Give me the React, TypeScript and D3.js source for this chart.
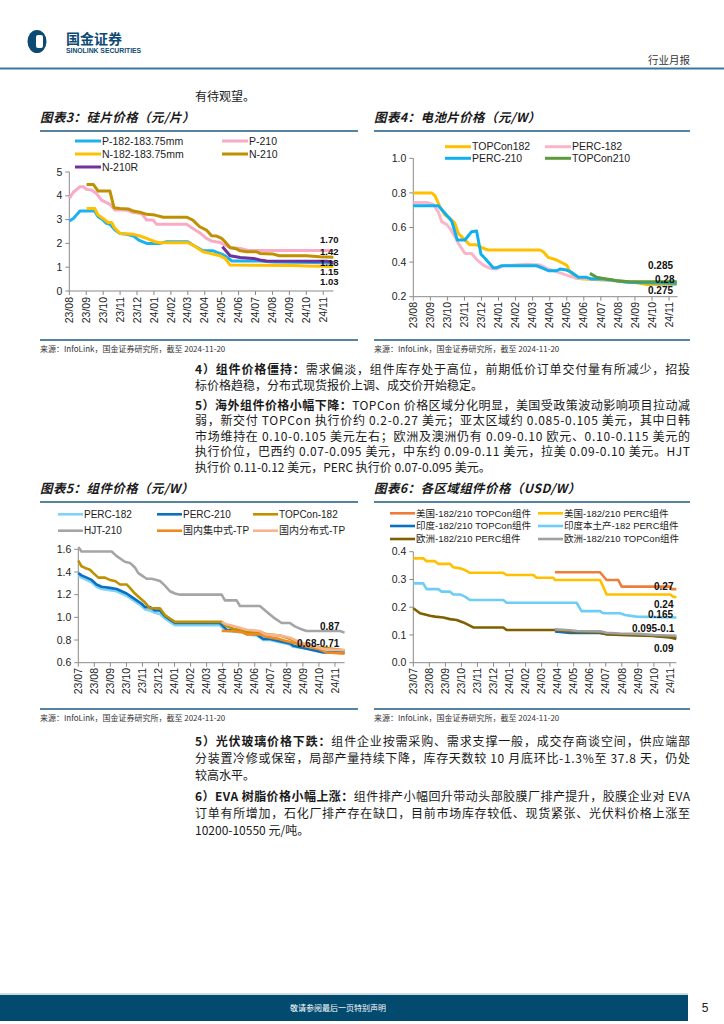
import React from 'react';
import * as d3 from 'd3';

type Pt = [number, number];

const FONT_CN = "'Noto Sans CJK SC', 'Noto Sans', sans-serif";
const FONT_EN = "'Liberation Sans', Arial, 'Noto Sans CJK SC', sans-serif";

// ---------- tick labels ----------
const monthsA = ['23/08', '23/09', '23/10', '23/11', '23/12', '24/01', '24/02', '24/03', '24/04', '24/05', '24/06', '24/07', '24/08', '24/09', '24/10', '24/11'];
const monthsB = ['23/07', ...monthsA];

// ---------- 图表3 硅片价格 (month index from 23/08, value) ----------
const siP182: Pt[] = [[0, 2.94], [0.24, 3.05], [0.63, 3.36], [1.5, 3.36], [1.7, 3.12], [2.0, 2.98], [2.2, 2.84], [2.4, 2.8], [2.7, 2.56], [3.0, 2.42], [3.4, 2.38], [3.8, 2.31], [4.1, 2.14], [4.57, 2.0], [5.35, 2.0], [5.75, 2.07], [7.0, 2.07], [7.3, 1.93], [7.9, 1.69], [8.5, 1.69], [9.0, 1.55], [9.2, 1.48], [9.6, 1.26], [11.26, 1.26], [12.05, 1.22], [14.5, 1.2], [15.2, 1.18], [15.6, 1.15]];
const siP210: Pt[] = [[0, 3.89], [0.24, 4.15], [0.63, 4.38], [0.83, 4.38], [1.02, 4.27], [1.32, 4.24], [1.6, 4.1], [1.9, 3.82], [2.2, 3.71], [2.4, 3.64], [2.7, 3.4], [3.4, 3.4], [3.7, 3.31], [4.27, 3.26], [4.57, 2.98], [4.96, 2.98], [5.16, 2.8], [6.93, 2.8], [7.3, 2.63], [7.7, 2.45], [8.1, 2.21], [8.4, 2.1], [8.9, 2.04], [9.2, 1.93], [9.5, 1.83], [10.1, 1.79], [10.6, 1.7], [15.6, 1.7]];
const siN182: Pt[] = [[1.02, 3.47], [1.5, 3.47], [1.7, 3.19], [2.0, 3.05], [2.3, 2.88], [2.5, 2.88], [2.7, 2.63], [3.0, 2.42], [3.8, 2.38], [4.17, 2.31], [4.57, 2.21], [5.06, 2.07], [5.35, 2.03], [7.0, 2.03], [7.3, 1.93], [7.9, 1.65], [8.3, 1.58], [8.9, 1.48], [9.2, 1.37], [9.5, 1.09], [13.2, 1.07], [14.0, 1.05], [15.6, 1.03]];
const siN210: Pt[] = [[1.02, 4.48], [1.42, 4.48], [1.7, 4.2], [2.4, 4.2], [2.64, 3.5], [3.0, 3.47], [3.48, 3.45], [3.78, 3.36], [4.17, 3.31], [4.57, 3.22], [5.06, 3.19], [5.55, 3.1], [6.93, 3.1], [7.3, 2.98], [7.7, 2.7], [8.1, 2.56], [8.4, 2.32], [8.7, 2.31], [9.0, 2.21], [9.2, 2.07], [9.5, 1.82], [9.8, 1.79], [10.1, 1.69], [10.5, 1.65], [11.06, 1.65], [11.26, 1.58], [12.05, 1.55], [12.4, 1.48], [14.0, 1.48], [14.8, 1.44], [15.6, 1.42]];
const siN210R: Pt[] = [[9.04, 1.86], [9.3, 1.65], [9.5, 1.48], [10.1, 1.41], [10.87, 1.37], [11.26, 1.3], [11.65, 1.26], [15.2, 1.25], [15.6, 1.2]];

// ---------- 图表4 电池片价格 ----------
const cellTop182: Pt[] = [[0, 0.8], [1.08, 0.8], [1.27, 0.784], [1.56, 0.72], [1.86, 0.672], [2.15, 0.653], [2.44, 0.624], [2.64, 0.566], [2.93, 0.537], [3.32, 0.5], [3.71, 0.5], [4.1, 0.48], [4.4, 0.47], [7.43, 0.47], [7.62, 0.46], [7.92, 0.427], [8.4, 0.412], [8.99, 0.383], [9.19, 0.345], [9.58, 0.306], [9.97, 0.302], [11.14, 0.296], [12.3, 0.29], [13.1, 0.28], [13.7, 0.27], [15.45, 0.27]];
const cellPerc182: Pt[] = [[0, 0.745], [0.78, 0.745], [1.17, 0.734], [1.47, 0.69], [1.66, 0.634], [1.95, 0.618], [2.15, 0.595], [2.44, 0.547], [2.64, 0.508], [3.03, 0.45], [3.42, 0.45], [3.71, 0.416], [4.1, 0.383], [4.5, 0.364], [4.89, 0.36], [5.28, 0.379], [6.65, 0.387], [7.43, 0.383], [7.82, 0.364], [8.4, 0.345], [8.99, 0.325], [9.58, 0.306], [9.97, 0.306], [11.14, 0.3], [12.0, 0.29], [13.0, 0.285], [14.0, 0.28], [15.45, 0.275]];
const cellPerc210: Pt[] = [[0, 0.726], [1.47, 0.726], [1.86, 0.682], [2.25, 0.638], [2.58, 0.528], [3.03, 0.528], [3.42, 0.576], [3.71, 0.58], [3.97, 0.445], [4.2, 0.422], [4.69, 0.368], [4.89, 0.368], [5.18, 0.379], [7.23, 0.379], [7.62, 0.364], [7.92, 0.35], [8.4, 0.35], [8.6, 0.36], [8.99, 0.354], [9.29, 0.34], [9.68, 0.312], [10.17, 0.312], [10.46, 0.302], [11.14, 0.302], [11.93, 0.292], [12.51, 0.283], [15.45, 0.277]];
const cellTop210: Pt[] = [[10.36, 0.335], [10.75, 0.312], [11.14, 0.306], [11.53, 0.3], [11.93, 0.292], [12.7, 0.287], [15.45, 0.287]];

// ---------- 图表5 组件价格 (month index from 23/07) ----------
const modPerc182: Pt[] = [[0, 1.37], [0.2, 1.35], [0.5, 1.33], [0.83, 1.31], [1.14, 1.27], [1.45, 1.25], [1.97, 1.24], [2.39, 1.23], [2.7, 1.21], [3.01, 1.19], [3.32, 1.16], [3.64, 1.13], [3.95, 1.1], [4.16, 1.07], [4.47, 1.06], [4.78, 1.04], [5.09, 1.03], [5.4, 0.99], [5.71, 0.96], [6.03, 0.93], [8.83, 0.93], [9.04, 0.9], [9.25, 0.88], [10.18, 0.87], [10.49, 0.85], [11.12, 0.84], [11.53, 0.8], [11.95, 0.8], [12.57, 0.78], [13.19, 0.76], [13.4, 0.74], [14.03, 0.73], [14.65, 0.72], [15.27, 0.7], [16.6, 0.69]];
const modPerc210: Pt[] = [[0, 1.39], [0.2, 1.37], [0.52, 1.35], [0.83, 1.33], [1.14, 1.29], [1.45, 1.27], [1.97, 1.26], [2.39, 1.25], [2.7, 1.23], [3.01, 1.21], [3.32, 1.18], [3.64, 1.15], [3.95, 1.12], [4.16, 1.09], [4.47, 1.09], [4.78, 1.06], [5.09, 1.06], [5.4, 1.01], [5.71, 0.98], [6.03, 0.95], [8.83, 0.95], [9.04, 0.92], [9.25, 0.89], [10.18, 0.88], [10.49, 0.86], [11.12, 0.85], [11.53, 0.81], [11.95, 0.81], [12.57, 0.79], [13.19, 0.77], [13.4, 0.75], [14.03, 0.73], [14.65, 0.71], [15.27, 0.69], [16.6, 0.69]];
const modTop182: Pt[] = [[0, 1.5], [0.2, 1.45], [0.52, 1.43], [0.73, 1.42], [0.94, 1.39], [1.25, 1.35], [1.66, 1.35], [1.97, 1.33], [2.29, 1.32], [2.6, 1.29], [3.01, 1.29], [3.22, 1.26], [3.53, 1.21], [3.84, 1.17], [4.16, 1.13], [4.47, 1.08], [5.09, 1.08], [5.4, 1.02], [5.71, 0.99], [6.03, 0.96], [8.94, 0.96], [9.14, 0.93], [9.66, 0.9], [10.08, 0.89], [10.49, 0.87], [11.32, 0.87], [11.74, 0.85], [12.57, 0.84], [13.19, 0.81], [13.82, 0.77], [14.65, 0.74], [15.48, 0.73], [16.6, 0.71]];
const modHjt210: Pt[] = [[0, 1.62], [0.2, 1.58], [2.08, 1.58], [2.39, 1.54], [2.7, 1.51], [2.9, 1.49], [3.22, 1.48], [3.53, 1.44], [3.74, 1.39], [3.95, 1.37], [4.26, 1.34], [4.57, 1.34], [4.88, 1.33], [5.09, 1.32], [5.4, 1.28], [5.71, 1.23], [6.03, 1.21], [6.34, 1.2], [8.94, 1.2], [9.14, 1.15], [9.87, 1.15], [10.08, 1.1], [11.32, 1.1], [11.74, 1.05], [12.16, 1.0], [12.68, 0.95], [13.19, 0.95], [13.5, 0.92], [13.82, 0.9], [14.23, 0.88], [16.31, 0.88], [16.6, 0.865]];
const modCentral: Pt[] = [[8.94, 0.88], [9.5, 0.88], [10.2, 0.87], [10.5, 0.85], [11.3, 0.85], [11.7, 0.83], [12.5, 0.81], [13.0, 0.79], [13.8, 0.76], [14.3, 0.74], [15.0, 0.72], [15.5, 0.69], [16.6, 0.68]];
const modDistributed: Pt[] = [[8.94, 0.96], [9.2, 0.94], [9.5, 0.93], [10.0, 0.91], [10.5, 0.89], [11.3, 0.88], [11.7, 0.85], [12.6, 0.84], [13.2, 0.82], [13.8, 0.78], [14.6, 0.75], [15.3, 0.72], [16.6, 0.71]];

// ---------- 图表6 各区域组件价格 ----------
const usTop: Pt[] = [[8.83, 0.326], [11.64, 0.326], [12.05, 0.298], [12.78, 0.298], [12.99, 0.274], [16.0, 0.274], [16.1, 0.265], [16.4, 0.265]];
const usPerc: Pt[] = [[0, 0.376], [0.62, 0.376], [0.83, 0.366], [1.35, 0.366], [1.56, 0.356], [2.29, 0.356], [2.49, 0.344], [2.91, 0.34], [3.22, 0.334], [3.53, 0.324], [5.61, 0.324], [5.82, 0.316], [7.48, 0.316], [7.69, 0.306], [8.73, 0.306], [8.83, 0.298], [11.64, 0.298], [11.84, 0.274], [12.05, 0.246], [16.0, 0.246], [16.2, 0.238], [16.4, 0.236]];
const inTop: Pt[] = [[8.83, 0.113], [9.8, 0.107], [11.6, 0.107], [12.05, 0.103], [13.9, 0.1], [14.96, 0.097], [15.5, 0.094], [16.4, 0.093]];
const inPerc: Pt[] = [[0, 0.286], [0.62, 0.286], [0.83, 0.265], [1.56, 0.265], [1.77, 0.256], [2.29, 0.256], [2.49, 0.246], [2.91, 0.246], [3.22, 0.238], [3.53, 0.226], [5.61, 0.226], [5.82, 0.216], [10.18, 0.216], [10.49, 0.186], [11.64, 0.186], [11.84, 0.178], [12.88, 0.178], [13.2, 0.172], [13.9, 0.166], [16.4, 0.163]];
const euPerc: Pt[] = [[0, 0.196], [0.42, 0.178], [0.73, 0.174], [1.04, 0.169], [1.35, 0.166], [1.87, 0.163], [2.29, 0.157], [2.7, 0.154], [3.12, 0.145], [3.43, 0.136], [3.74, 0.127], [5.61, 0.127], [5.82, 0.118], [8.83, 0.118], [9.77, 0.112], [11.64, 0.109], [12.05, 0.103], [12.88, 0.1], [14.96, 0.096], [16.0, 0.091], [16.4, 0.085]];
const euTop: Pt[] = [[8.83, 0.12], [9.77, 0.117], [10.2, 0.114], [11.64, 0.113], [12.05, 0.108], [12.88, 0.105], [14.0, 0.104], [15.0, 0.1], [16.4, 0.097]];

// ---------- text ----------
const sourceText = '来源：InfoLink，国金证券研究所，截至 2024-11-20';
const blockA = [
  { lead: '4）组件价格僵持：', lines: ['需求偏淡，组件库存处于高位，前期低价订单交付量有所减少，招投', '标价格趋稳，分布式现货报价上调、成交价开始稳定。'] },
  { lead: '5）海外组件价格小幅下降：', lines: ['TOPCon 价格区域分化明显，美国受政策波动影响项目拉动减', '弱，新交付 TOPCon 执行价约 0.2-0.27 美元；亚太区域约  0.085-0.105 美元，其中日韩', '市场维持在 0.10-0.105 美元左右；欧洲及澳洲仍有 0.09-0.10 欧元、0.10-0.115 美元的', '执行价位，巴西约 0.07-0.095 美元，中东约 0.09-0.11 美元，拉美 0.09-0.10 美元。HJT', '执行价 0.11-0.12 美元，PERC 执行价 0.07-0.095 美元。'] },
];
const blockB = [
  { lead: '5）光伏玻璃价格下跌：', lines: ['组件企业按需采购、需求支撑一般，成交存商谈空间，供应端部', '分装置冷修或保窑，局部产量持续下降，库存天数较 10 月底环比-1.3%至 37.8 天，仍处', '较高水平。'] },
  { lead: '6）EVA 树脂价格小幅上涨：', lines: ['组件排产小幅回升带动头部胶膜厂排产提升，胶膜企业对 EVA', '订单有所增加，石化厂排产存在缺口，目前市场库存较低、现货紧张、光伏料价格上涨至', '10200-10550 元/吨。'] },
];

interface Series { name: string; color: string; data: Pt[]; }
interface Ann { text: string; x: number; y: number; }
interface ChartCfg {
  title: string;
  colLeft: number; colRight: number; titleY: number; sourceY: number;
  left: number; pxPerMonth: number; xEnd: number;
  top: number; bottom: number; yDomain: [number, number]; yTicks: number[]; yFmt: (v: number) => string;
  months: string[]; labelTop: number;
  series: Series[]; lineW: number;
  legendCols: number[]; legendRows: number[]; legendFont: number; legendLine: number;
  anns: Ann[]; annFont: number;
}

const BLUE = '#1f5a85';

function Chart({ c }: { c: ChartCfg }) {
  const x = d3.scaleLinear().domain([0, c.xEnd]).range([c.left, c.left + c.pxPerMonth * c.xEnd]);
  const y = d3.scaleLinear().domain(c.yDomain).range([c.bottom, c.top]);
  const line = d3.line<Pt>().x(d => x(d[0])).y(d => y(d[1]));
  const nCols = c.legendCols.length;
  return (
    <g>
      <text x={c.colLeft} y={c.titleY} fontFamily={FONT_CN} fontSize={12.5} fontWeight="bold" fontStyle="italic" fill="#1a1a1a" letterSpacing={0.4}>{c.title}</text>
      <line x1={c.colLeft} x2={c.colRight} y1={c.titleY + 9} y2={c.titleY + 9} stroke={BLUE} strokeWidth={1.5} />
      {/* legend */}
      {c.series.map((s, i) => {
        const lx = c.legendCols[i % nCols];
        const ly = c.legendRows[Math.floor(i / nCols)];
        return (
          <g key={'lg' + i}>
            <line x1={lx} x2={lx + c.legendLine} y1={ly} y2={ly} stroke={s.color} strokeWidth={c.lineW} />
            <text x={lx + c.legendLine + 1} y={ly} dy="0.35em" fontFamily={FONT_EN} fontSize={c.legendFont} fill="#222">{s.name}</text>
          </g>
        );
      })}
      {/* axes */}
      <line x1={c.left} x2={c.left} y1={c.top} y2={c.bottom} stroke="#8a8a8a" strokeWidth={1} />
      <line x1={c.left} x2={x(c.xEnd)} y1={c.bottom} y2={c.bottom} stroke="#8a8a8a" strokeWidth={1} />
      {c.yTicks.map(t => (
        <g key={'yt' + t}>
          <line x1={c.left - 4} x2={c.left} y1={y(t)} y2={y(t)} stroke="#8a8a8a" />
          <text x={c.left - 7} y={y(t)} dy="0.35em" textAnchor="end" fontFamily={FONT_EN} fontSize={10.5} fill="#222">{c.yFmt(t)}</text>
        </g>
      ))}
      {c.months.map((m, i) => (
        <g key={'xt' + i}>
          <line x1={x(i)} x2={x(i)} y1={c.bottom} y2={c.bottom + 4} stroke="#8a8a8a" />
          <text transform={`translate(${x(i)},${c.labelTop}) rotate(-90)`} dy="0.35em" textAnchor="end" fontFamily={FONT_EN} fontSize={10.5} fill="#222">{m}</text>
        </g>
      ))}
      {/* series */}
      {c.series.map((s, i) => (
        <path key={'s' + i} d={line(s.data) || ''} fill="none" stroke={s.color} strokeWidth={c.lineW} strokeLinejoin="round" />
      ))}
      {c.anns.map((a, i) => (
        <text key={'a' + i} x={a.x} y={a.y} dy="0.35em" fontFamily={FONT_EN} fontSize={c.annFont} fontWeight="bold" fill="#111">{a.text}</text>
      ))}
      {/* source */}
      <line x1={c.colLeft} x2={c.colRight} y1={c.sourceY - 9} y2={c.sourceY - 9} stroke={BLUE} strokeWidth={1.5} />
      <text x={c.colLeft} y={c.sourceY} dy="0.35em" fontFamily={FONT_CN} fontSize={8} fill="#333">{sourceText}</text>
    </g>
  );
}

const chart3: ChartCfg = {
  title: '图表3：硅片价格（元/片）', colLeft: 40, colRight: 358, titleY: 122, sourceY: 349,
  left: 69.3, pxPerMonth: 16.93, xEnd: 15.6, top: 172, bottom: 291, yDomain: [0, 5], yTicks: [0, 1, 2, 3, 4, 5], yFmt: v => String(v),
  months: monthsA, labelTop: 297,
  series: [
    { name: 'P-182-183.75mm', color: '#1cb2ee', data: siP182 },
    { name: 'P-210', color: '#f9aac6', data: siP210 },
    { name: 'N-182-183.75mm', color: '#ffc000', data: siN182 },
    { name: 'N-210', color: '#bf9000', data: siN210 },
    { name: 'N-210R', color: '#7030a0', data: siN210R },
  ], lineW: 3,
  legendCols: [75, 222], legendRows: [141, 154, 167], legendFont: 10.5, legendLine: 26,
  anns: [{ text: '1.70', x: 320, y: 240 }, { text: '1.42', x: 320, y: 251.5 }, { text: '1.18', x: 320, y: 262.5 }, { text: '1.15', x: 320, y: 272 }, { text: '1.03', x: 320, y: 281.5 }],
  annFont: 9.5,
};

const chart4: ChartCfg = {
  title: '图表4：电池片价格（元/W）', colLeft: 374, colRight: 690, titleY: 122, sourceY: 349,
  left: 413.3, pxPerMonth: 17.05, xEnd: 15.5, top: 158.3, bottom: 296.7, yDomain: [0.2, 1.0], yTicks: [0.2, 0.4, 0.6, 0.8, 1.0], yFmt: v => v.toFixed(1),
  months: monthsA, labelTop: 302,
  series: [
    { name: 'TOPCon182', color: '#ffc000', data: cellTop182 },
    { name: 'PERC-182', color: '#f9b6cb', data: cellPerc182 },
    { name: 'PERC-210', color: '#10b0ee', data: cellPerc210 },
    { name: 'TOPCon210', color: '#5b9b3c', data: cellTop210 },
  ], lineW: 3,
  legendCols: [445, 545], legendRows: [146.7, 158.3], legendFont: 10.5, legendLine: 26,
  anns: [{ text: '0.285', x: 648, y: 265 }, { text: '0.28', x: 655, y: 279.3 }, { text: '0.275', x: 648, y: 290.7 }],
  annFont: 10,
};

const chart5: ChartCfg = {
  title: '图表5：组件价格（元/W）', colLeft: 40, colRight: 358, titleY: 493, sourceY: 718,
  left: 78.3, pxPerMonth: 16.04, xEnd: 16.6, top: 549.3, bottom: 662.7, yDomain: [0.6, 1.6], yTicks: [0.6, 0.8, 1.0, 1.2, 1.4, 1.6], yFmt: v => v.toFixed(1),
  months: monthsB, labelTop: 668,
  series: [
    { name: 'PERC-182', color: '#7fd3f7', data: modPerc182 },
    { name: 'PERC-210', color: '#0a70c0', data: modPerc210 },
    { name: 'TOPCon-182', color: '#bf9000', data: modTop182 },
    { name: 'HJT-210', color: '#a5a5a5', data: modHjt210 },
    { name: '国内集中式-TP', color: '#f08a1e', data: modCentral },
    { name: '国内分布式-TP', color: '#f7b48e', data: modDistributed },
  ], lineW: 2.6,
  legendCols: [58, 157, 253], legendRows: [514.3, 530.7], legendFont: 10, legendLine: 25,
  anns: [{ text: '0.87', x: 320, y: 626 }, { text: '0.68-0.71', x: 297, y: 643 }],
  annFont: 10,
};

const chart6: ChartCfg = {
  title: '图表6：各区域组件价格（USD/W）', colLeft: 374, colRight: 690, titleY: 493, sourceY: 718,
  left: 413.3, pxPerMonth: 16.04, xEnd: 16.4, top: 551.7, bottom: 662.7, yDomain: [0, 0.4], yTicks: [0, 0.1, 0.2, 0.3, 0.4], yFmt: v => v.toFixed(1),
  months: monthsB, labelTop: 668,
  series: [
    { name: '美国-182/210 TOPCon组件', color: '#ef7d3a', data: usTop },
    { name: '美国-182/210 PERC组件', color: '#ffc000', data: usPerc },
    { name: '印度-182/210 TOPCon组件', color: '#0a70c0', data: inTop },
    { name: '印度本土产-182 PERC组件', color: '#6dcdf5', data: inPerc },
    { name: '欧洲-182/210 PERC组件', color: '#7f6000', data: euPerc },
    { name: '欧洲-182/210 TOPCon组件', color: '#a0a0a0', data: euTop },
  ], lineW: 2.6,
  legendCols: [390, 538], legendRows: [513.3, 526, 539], legendFont: 9.5, legendLine: 25,
  anns: [{ text: '0.27', x: 654, y: 586 }, { text: '0.24', x: 654, y: 604.5 }, { text: '0.165', x: 648, y: 614.5 }, { text: '0.095-0.1', x: 632, y: 628 }, { text: '0.09', x: 654, y: 648 }],
  annFont: 10,
};

function TextBlock({ paras, y0, step, gap }: { paras: { lead: string; lines: string[] }[]; y0: number; step: number; gap: number }) {
  const out: React.ReactNode[] = [];
  let y = y0;
  paras.forEach((p, pi) => {
    p.lines.forEach((ln, li) => {
      const last = li === p.lines.length - 1;
      out.push(
        <text key={pi + '-' + li} x={195} y={y} fontFamily={FONT_CN} fontSize={12} fill="#1a1a1a"
          {...(last ? {} : { textLength: 495, lengthAdjust: 'spacing' })}>
          {li === 0 ? <tspan fontWeight="bold">{p.lead}</tspan> : null}
          <tspan>{ln}</tspan>
        </text>
      );
      y += step;
    });
    y += gap;
  });
  return <g>{out}</g>;
}

export default function App() {
  return (
    <svg width={724} height={1024} viewBox="0 0 724 1024" style={{ position: 'absolute', left: 0, top: 0, background: '#fff' }}>
      <rect width={724} height={1024} fill="#fff" />
      {/* header */}
      <g>
        <ellipse cx={37} cy={41.5} rx={9.5} ry={11.5} fill="#0d4a73" />
        <rect x={36} y={35} width={7} height={13} rx={2} fill="#fff" />
        <text x={66} y={43.5} fontFamily={FONT_CN} fontSize={14} fontWeight="bold" fill="#0d4a73">国金证券</text>
        <text x={66} y={52.5} fontFamily={FONT_EN} fontSize={6.8} fontWeight="bold" fill="#0d4a73">SINOLINK SECURITIES</text>
        <text x={690} y={64} textAnchor="end" fontFamily={FONT_CN} fontSize={10.5} fill="#333">行业月报</text>
        <line x1={0} x2={724} y1={68.5} y2={68.5} stroke="#3a77a2" strokeWidth={2} />
      </g>
      <text x={195} y={101} fontFamily={FONT_CN} fontSize={12} fill="#1a1a1a">有待观望。</text>
      <Chart c={chart3} />
      <Chart c={chart4} />
      <TextBlock paras={blockA} y0={374} step={15.5} gap={4.5} />
      <Chart c={chart5} />
      <Chart c={chart6} />
      <TextBlock paras={blockB} y0={746} step={17} gap={4} />
      {/* footer */}
      <g>
        <line x1={0} x2={688} y1={994} y2={994} stroke="#9fb8c9" strokeWidth={1} />
        <rect x={0} y={995} width={688} height={26} fill="#024b6f" />
        <text x={338} y={1008} dy="0.35em" textAnchor="middle" fontFamily={FONT_CN} fontSize={8} fill="#fff">敬请参阅最后一页特别声明</text>
        <text x={705} y={1008} dy="0.35em" textAnchor="middle" fontFamily={FONT_EN} fontSize={12} fill="#222">5</text>
      </g>
    </svg>
  );
}
